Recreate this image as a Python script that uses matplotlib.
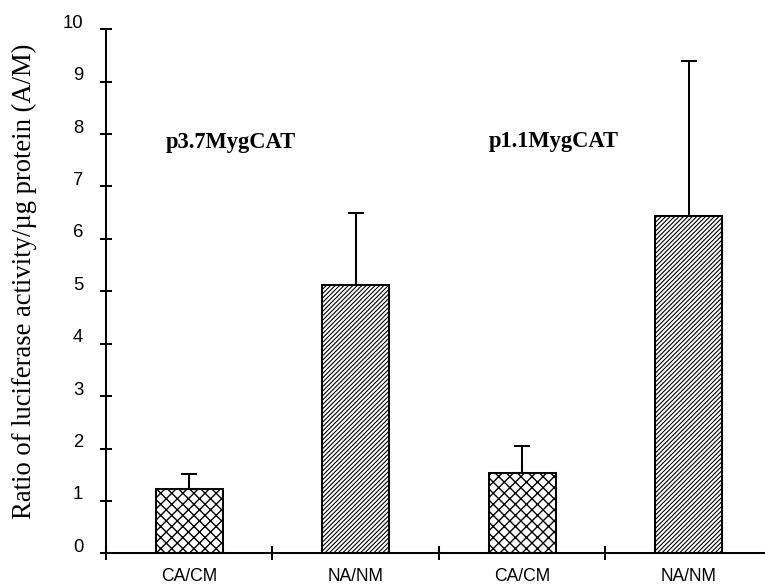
import matplotlib
matplotlib.use('Agg')
import matplotlib.pyplot as plt
import matplotlib.transforms as mtransforms
import numpy as np

# ---- data ----
categories = ['CA/CM', 'NA/NM', 'CA/CM', 'NA/NM']
means = [1.23, 5.12, 1.53, 6.44]
errors = [0.28, 1.38, 0.52, 2.96]
hatches = ['xxxx', '//////////', 'xxxx', '//////////']
constructs = ['p3.7MygCAT', 'p1.1MygCAT']
construct_pos = [(0.75, 7.73), (2.69, 7.76)]
yticks = list(range(0, 11))
ylabel = 'Ratio of luciferase activity/\u00b5g protein (A/M)'

plt.rcParams['font.family'] = ['Liberation Sans', 'DejaVu Sans']

DPI = 133
fig = plt.figure(figsize=(765 / DPI, 588 / DPI), dpi=DPI)
ax = fig.add_axes([0.13856, 0.0590, 0.86144, 0.8912])

x = np.arange(len(categories)) + 0.5
for xi, m, h in zip(x, means, hatches):
    lw = 0.75 if 'x' in h else 0.6
    with plt.rc_context({'hatch.linewidth': lw}):
        bc = ax.bar(xi, m, width=0.4, color='white', edgecolor='black',
                    linewidth=1.1, hatch=h, zorder=2)
    for p in bc:
        if hasattr(p, 'set_hatch_linewidth'):
            p.set_hatch_linewidth(lw)

ax.errorbar(x, means, yerr=[np.zeros(len(means)), errors], fmt='none',
            ecolor='black', elinewidth=1.1, capsize=4.5, capthick=1.1, zorder=1)

ax.set_xlim(0, 3.958)
ax.set_ylim(0, 10)
for s in ['top', 'right']:
    ax.spines[s].set_visible(False)
for s in ['left', 'bottom']:
    ax.spines[s].set_linewidth(1.1)

ax.set_yticks(yticks)
ax.set_yticklabels([str(v) for v in yticks])
ax.set_xticks([0, 1, 2, 3])
ax.set_xticklabels([])
ax.set_xticks(x, minor=True)
ax.set_xticklabels(categories, minor=True)

ax.tick_params(axis='y', direction='inout', length=6.7, width=1.1, pad=9.0,
               labelsize=10)
ax.tick_params(axis='x', which='major', direction='inout', length=8, width=1.1)
ax.tick_params(axis='x', which='minor', length=0, pad=7.8, labelsize=9.5)

for txt, (tx, ty) in zip(constructs, construct_pos):
    ax.text(tx, ty, txt, ha='center', va='baseline', fontsize=12.2,
            fontweight='bold', family=['Liberation Serif', 'DejaVu Serif'])

ax.set_ylabel(ylabel, fontsize=14.4, family=['Liberation Serif', 'DejaVu Serif'])
ax.yaxis.set_label_coords(-0.1244, 0.5187)
ax.yaxis.label.set_va('center')

offset = mtransforms.ScaledTranslation(0, 8 / DPI, fig.dpi_scale_trans)
for t in ax.yaxis.get_major_ticks():
    t.label1.set_transform(t.label1.get_transform() + offset)

fig.savefig('out.png', dpi=DPI)
